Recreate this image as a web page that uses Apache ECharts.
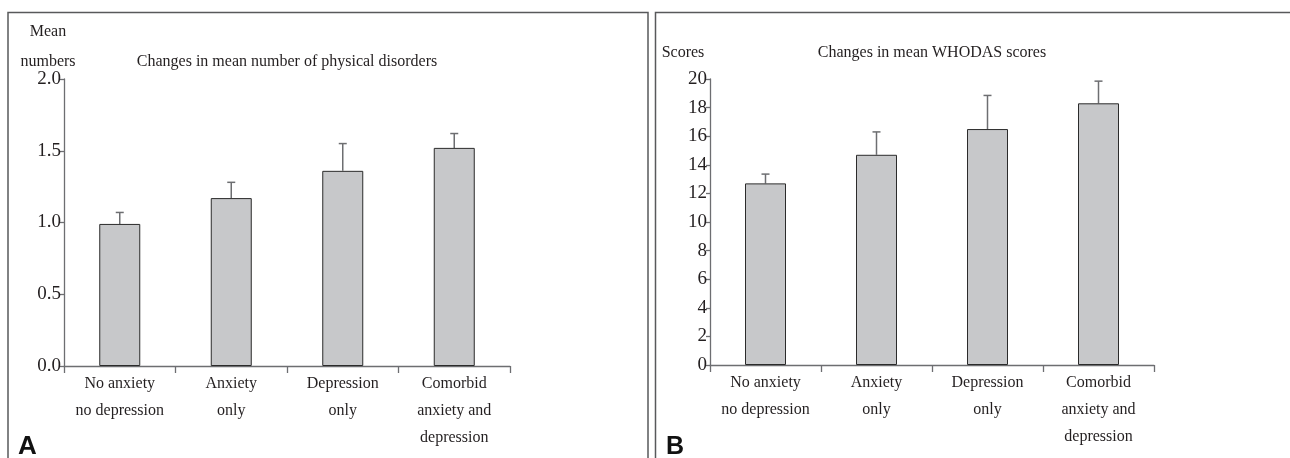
<!DOCTYPE html>
<html lang="en">
<head>
    <meta charset="UTF-8">
    <title>Physical disorders and WHODAS scores</title>
    <script src="https://cdn.jsdelivr.net/npm/echarts@6.0.0/dist/echarts.min.js"></script>
    <style>
        body { margin: 0; padding: 0; background: #fff; }
        #chart { width: 1290px; height: 458px; }
    </style>
</head>
<body>
    <div id="chart"></div>
    <script>
        // categories shared by both panels
        const groups = ['No anxiety\nno depression', 'Anxiety\nonly', 'Depression\nonly', 'Comorbid\nanxiety and\ndepression'];

        // panel A: mean number of physical disorders (bar = mean, upper = top of error bar)
        const disorderMean = [0.99, 1.17, 1.36, 1.52];
        const disorderUpper = [1.07, 1.28, 1.55, 1.62];
        const disorderTicks = { min: 0, max: 2, interval: 0.5 };

        // panel B: mean WHODAS scores
        const whodasMean = [12.7, 14.7, 16.5, 18.3];
        const whodasUpper = [13.35, 16.3, 18.85, 19.85];
        const whodasTicks = { min: 0, max: 20, interval: 2 };

        const serif = 'Liberation Serif';
        const ink = '#231f20';
        const axisGray = '#6d6e71';

        function xAxisFor(gridIndex) {
            return {
                type: 'category',
                gridIndex: gridIndex,
                data: groups,
                axisLine: { lineStyle: { color: axisGray, width: 1.3 } },
                axisTick: { show: true, length: 7, lineStyle: { color: axisGray, width: 1.3 } },
                axisLabel: { color: ink, fontFamily: serif, fontSize: 16, lineHeight: 27, margin: 4, interval: 0 }
            };
        }

        function yAxisFor(gridIndex, ticks, digits) {
            return {
                type: 'value',
                gridIndex: gridIndex,
                min: ticks.min,
                max: ticks.max,
                interval: ticks.interval,
                splitLine: { show: false },
                axisLine: { show: true, lineStyle: { color: axisGray, width: 1.3 } },
                axisTick: { show: true, length: 4, lineStyle: { color: axisGray, width: 1.3 } },
                axisLabel: {
                    color: ink, fontFamily: serif, fontSize: 19, margin: 3,
                    formatter: function (v) { return v.toFixed(digits); }
                }
            };
        }

        // upper whisker with a small cap
        function errorBar(params, api) {
            const x = api.value(0);
            const base = api.coord([x, api.value(1)]);
            const top = api.coord([x, api.value(2)]);
            const style = { stroke: '#6d6e71', lineWidth: 1.5 };
            return {
                type: 'group',
                children: [
                    { type: 'line', shape: { x1: base[0], y1: base[1], x2: top[0], y2: top[1] }, style: style },
                    { type: 'line', shape: { x1: top[0] - 4, y1: top[1], x2: top[0] + 4, y2: top[1] }, style: style }
                ]
            };
        }

        function pairs(means, upper) {
            return means.map(function (m, i) { return [i, m, upper[i]]; });
        }

        const chart = echarts.init(document.getElementById('chart'));
        chart.setOption({
            animation: false,
            grid: [
                { left: 64, top: 79, width: 446, height: 287 },
                { left: 710, top: 79, width: 444, height: 286 }
            ],
            xAxis: [xAxisFor(0), xAxisFor(1)],
            yAxis: [yAxisFor(0, disorderTicks, 1), yAxisFor(1, whodasTicks, 0)],
            series: [
                {
                    type: 'bar', xAxisIndex: 0, yAxisIndex: 0, data: disorderMean, barWidth: 41,
                    itemStyle: { color: '#c7c8ca', borderColor: '#2b2b2b', borderWidth: 1 }
                },
                {
                    type: 'custom', xAxisIndex: 0, yAxisIndex: 0, renderItem: errorBar,
                    data: pairs(disorderMean, disorderUpper), z: 1
                },
                {
                    type: 'bar', xAxisIndex: 1, yAxisIndex: 1, data: whodasMean, barWidth: 41,
                    itemStyle: { color: '#c7c8ca', borderColor: '#2b2b2b', borderWidth: 1 }
                },
                {
                    type: 'custom', xAxisIndex: 1, yAxisIndex: 1, renderItem: errorBar,
                    data: pairs(whodasMean, whodasUpper), z: 1
                }
            ],
            graphic: [
                // panel frames
                { type: 'rect', shape: { x: 8, y: 12.5, width: 640, height: 470 }, style: { fill: 'none', stroke: '#58595b', lineWidth: 1.5 } },
                { type: 'rect', shape: { x: 655.5, y: 12.5, width: 700, height: 470 }, style: { fill: 'none', stroke: '#58595b', lineWidth: 1.5 } },
                // panel A texts
                { type: 'text', x: 48, y: 32, style: { text: 'Mean', fill: ink, font: '16px "Liberation Serif"', textAlign: 'center', textVerticalAlign: 'middle' } },
                { type: 'text', x: 48, y: 62, style: { text: 'numbers', fill: ink, font: '16px "Liberation Serif"', textAlign: 'center', textVerticalAlign: 'middle' } },
                { type: 'text', x: 287, y: 62, style: { text: 'Changes in mean number of physical disorders', fill: ink, font: '16px "Liberation Serif"', textAlign: 'center', textVerticalAlign: 'middle' } },
                { type: 'text', x: 18, y: 447, style: { text: 'A', fill: '#111', font: 'bold 26px "Liberation Sans"', textAlign: 'left', textVerticalAlign: 'middle' } },
                // panel B texts
                { type: 'text', x: 683, y: 53, style: { text: 'Scores', fill: ink, font: '16px "Liberation Serif"', textAlign: 'center', textVerticalAlign: 'middle' } },
                { type: 'text', x: 932, y: 53, style: { text: 'Changes in mean WHODAS scores', fill: ink, font: '16px "Liberation Serif"', textAlign: 'center', textVerticalAlign: 'middle' } },
                { type: 'text', x: 666, y: 447, style: { text: 'B', fill: '#111', font: 'bold 25px "Liberation Sans"', textAlign: 'left', textVerticalAlign: 'middle' } }
            ]
        });
    </script>
</body>
</html>
